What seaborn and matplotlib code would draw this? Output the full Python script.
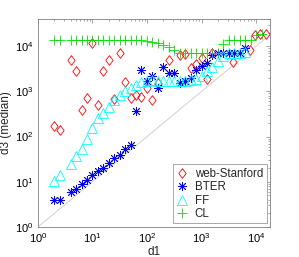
import matplotlib
matplotlib.use('Agg')
import matplotlib.pyplot as plt
import matplotlib.ticker as mtick
import seaborn as sns

# log-binned d1 values and median d3 per bin
stanford_d1 = [2.0, 2.5, 4.0, 5.0, 6.3, 7.9, 10, 12.6, 15.8, 20, 25, 32, 40, 50, 63, 79,
               100, 126, 158, 251, 398, 501, 631, 794, 1000, 1259, 1585, 3715, 7760,
               9550, 12000, 15100]
stanford_d3 = [172, 138, 4900, 2880, 389, 724, 12000, 490, 2880, 4900, 676, 7240, 1585,
               708, 832, 741, 1202, 646, 1549, 4900, 6460, 6610, 3240, 3980, 5620, 1860,
               7080, 4570, 8130, 17400, 18600, 18600]

bter_d1 = [2.0, 2.5, 4.0, 5.0, 6.3, 7.9, 10, 12.6, 15.8, 20, 25, 32, 40, 50, 63, 79,
           100, 126, 158, 200, 251, 316, 398, 501, 631, 794, 1000, 1259, 1585, 1995,
           2512, 3162, 3981, 5012, 6310]
bter_d3 = [4.0, 4.0, 5.8, 6.9, 8.8, 10.9, 14.1, 17.2, 20.4, 25.9, 32.9, 39.4, 52.7, 64.6,
           372, 2950, 1660, 2240, 1175, 3390, 2570, 2570, 1550, 1660, 2000, 3020, 3630,
           4270, 6460, 7080, 7080, 7080, 7080, 7080, 9120]

ff_d1 = [2.0, 2.5, 4.0, 5.0, 6.3, 7.9, 10, 12.6, 15.8, 20, 25, 32, 40, 50, 63, 79,
         100, 126, 158, 200, 251, 316, 398, 501, 631, 794, 1000, 1259, 1585, 1995,
         2512, 3162, 3981, 5012, 6310]
ff_d3 = [10.2, 14.3, 24.5, 37.5, 52.5, 87, 158, 257, 339, 457, 646, 813, 1023, 1202,
         1380, 1585, 1700, 1780, 1740, 1720, 1700, 1700, 1700, 1740, 1780, 1905, 2240,
         2820, 3550, 4790, 6030, 6920, 7240, 7240, 7410]

cl_d1 = [2.0, 2.5, 4.0, 5.0, 6.3, 7.9, 10, 12.6, 15.8, 20, 25, 32, 40, 50, 63, 79,
         100, 126, 158, 200, 251, 316, 398, 501, 631, 794, 1000, 1259, 1585, 1995,
         2512, 3162, 3981, 5012, 6310, 7943, 10000, 12589]
cl_d3 = [13800, 13800, 13800, 13800, 13800, 13800, 13800, 13800, 13800, 13800, 13800,
         13800, 13800, 13800, 13800, 13800, 12900, 12300, 11500, 10500, 9550, 8300,
         7240, 7240, 7240, 7240, 7240, 7240, 7240, 7240, 11200, 13800, 13800, 13800,
         13800, 13800, 17800, 19000]

sns.set_style('white')
plt.rcParams['font.family'] = ['Liberation Sans', 'DejaVu Sans']
plt.rcParams['mathtext.fontset'] = 'custom'
plt.rcParams['mathtext.rm'] = 'Liberation Sans'
plt.rcParams['mathtext.it'] = 'Liberation Sans:italic'
plt.rcParams['mathtext.bf'] = 'Liberation Sans:bold'

fig = plt.figure(figsize=(2.99, 2.57), dpi=100)
ax = fig.add_axes([0.127, 0.117, 0.776, 0.809])
ax.set_xscale('log')
ax.set_yscale('log')

# reference line d3 = d1
ax.axline((1, 1), (10, 10), color='#c8c8c8', lw=0.6, zorder=1)

diamond = [(0, 1), (0.75, 0), (0, -1), (-0.75, 0), (0, 1)]
series = [
    ('web-Stanford', stanford_d1, stanford_d3, diamond, '#ff0000', 7),
    ('BTER', bter_d1, bter_d3, (8, 2, 0), '#0000ff', 6.5),
    ('FF', ff_d1, ff_d3, '^', '#00ffff', 6.5),
    ('CL', cl_d1, cl_d3, '+', '#00e000', 7.5),
]
for name, d1, d3, marker, color, ms in series:
    sns.lineplot(x=d1, y=d3, ax=ax, estimator=None, sort=False, linestyle='',
                 marker=marker, markersize=ms, markerfacecolor='none',
                 markeredgecolor=color, markeredgewidth=0.6, color=color, label=name)

ax.set_xlim(1, 1.8e4)
ax.set_ylim(1, 4e4)
ax.xaxis.set_major_locator(mtick.LogLocator(base=10, numticks=10))
ax.yaxis.set_major_locator(mtick.LogLocator(base=10, numticks=10))

for side in ax.spines.values():
    side.set_color('#808080')
    side.set_linewidth(0.6)
ax.tick_params(which='both', direction='in', top=True, right=True, color='#808080',
               width=0.5, labelsize=8, labelcolor='black', pad=3)
ax.tick_params(which='major', length=3)
ax.tick_params(which='minor', length=1.5)

ax.set_xlabel('d1', fontsize=8.5, labelpad=1)
ax.set_ylabel('d3 (median)', fontsize=8.5, labelpad=2)

leg = ax.legend(loc='lower right', fontsize=8.3, frameon=True, fancybox=False,
                handlelength=1.0, handletextpad=0.6, borderpad=0.3,
                labelspacing=0.12, borderaxespad=0.3)
leg.get_frame().set_edgecolor('#808080')
leg.get_frame().set_linewidth(0.6)

fig.savefig('out.png', dpi=100)
